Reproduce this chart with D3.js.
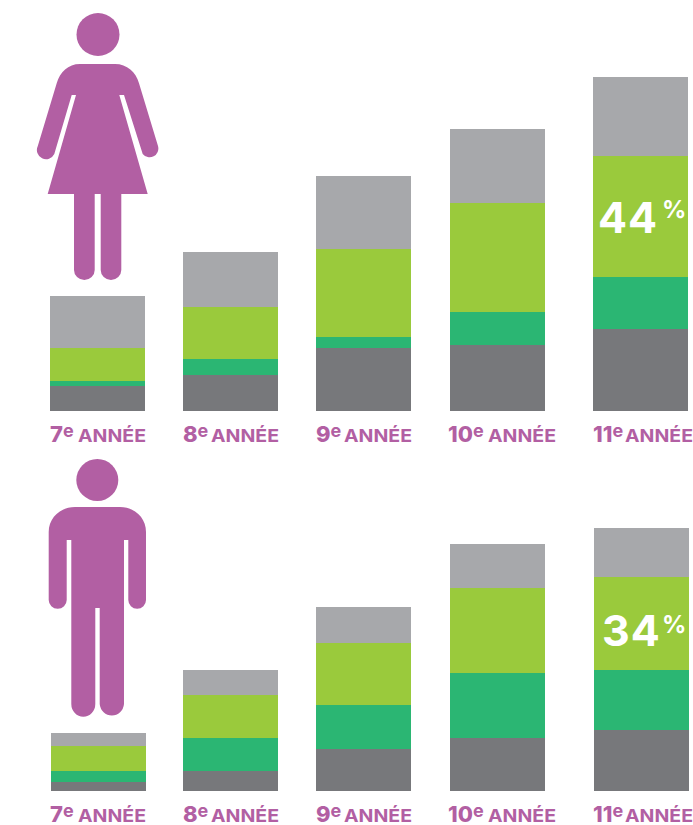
<!DOCTYPE html>
<html>
<head>
<meta charset="utf-8">
<script src="https://cdn.jsdelivr.net/npm/d3@7"></script>
<style>
  body { margin: 0; background: #fff; }
  text { font-family: Inter, sans-serif; font-weight: 700; }
</style>
</head>
<body>
<svg class="chart" width="693" height="825"></svg>
<script>
const grades = ["7", "8", "9", "10", "11"];
const layers = ["dark", "green", "lime", "grey"];
const layerColors = ["#77787b", "#2bb673", "#9aca3c", "#a7a8ab"];

// percent of students
const girlsDark = [9.1, 13.1, 22.9, 24, 29.8];
const girlsGreen = [1.9, 5.8, 4, 12, 18.9];
const girlsLime = [12, 18.9, 32.1, 39.7, 44];
const girlsGrey = [18.8, 20, 26.4, 26.8, 28.7];

const boysDark = [3.3, 7.3, 15.3, 19.3, 22.2];
const boysGreen = [4, 12, 16, 23.6, 21.8];
const boysLime = [9, 15.6, 22.5, 31, 34];
const boysGrey = [4.8, 9.1, 13.1, 15.9, 17.7];

const purple = "#b25fa3";

const svg = d3.select("svg.chart");

const topBarX = d3.scaleOrdinal().domain(grades).range([50, 183, 316, 450, 593]);
const bottomBarX = d3.scaleOrdinal().domain(grades).range([51, 183, 316, 450, 594]);
const labelX = d3.scaleOrdinal().domain(grades).range([50, 183, 316, 448, 593]);
const anneeX = d3.scaleOrdinal().domain(grades).range([78, 211, 344, 488, 625]);
const color = d3.scaleOrdinal().domain(layers).range(layerColors);
const stack = d3.stack().keys(layers);

function toRows(dark, green, lime, grey) {
  return grades.map((g, i) => {
    return { grade: g, dark: dark[i], green: green[i], lime: lime[i], grey: grey[i] };
  });
}

function drawPanel(rows, baseline, barX) {
  const y = d3.scaleLinear().domain([0, 100]).range([baseline, baseline - 275]);
  const panel = svg.append("g");

  panel
    .selectAll("g")
    .data(stack(rows))
    .enter()
    .append("g")
    .attr("fill", (d) => color(d.key))
    .selectAll("rect")
    .data((d) => d)
    .enter()
    .append("rect")
    .attr("x", (d) => barX(d.data.grade))
    .attr("y", (d) => y(d[1]))
    .attr("width", 95)
    .attr("height", (d) => y(d[0]) - y(d[1]))
    .attr("shape-rendering", "crispEdges");

  const labels = panel
    .selectAll("text.grade")
    .data(grades)
    .enter()
    .append("text")
    .attr("class", "grade")
    .attr("x", (d) => labelX(d))
    .attr("y", baseline + 31)
    .attr("fill", purple);
  labels.append("tspan").attr("font-size", 22).attr("font-weight", 800).text((d) => d);
  labels.append("tspan").attr("font-size", 18).attr("dy", -5).text("e");

  panel
    .selectAll("text.annee")
    .data(grades)
    .enter()
    .append("text")
    .attr("class", "annee")
    .attr("x", (d) => anneeX(d))
    .attr("y", baseline + 31)
    .attr("fill", purple)
    .attr("font-size", 18)
    .attr("font-weight", 800)
    .attr("textLength", 68)
    .attr("lengthAdjust", "spacingAndGlyphs")
    .text("ANNÉE");
}

function drawPercent(label, x, y, percentY) {
  svg.append("text").attr("x", x).attr("y", y)
    .attr("fill", "#fff").attr("font-size", 43).attr("font-weight", 800)
    .attr("letter-spacing", 1).text(label);
  svg.append("text").attr("x", 662).attr("y", percentY)
    .attr("fill", "#fff").attr("font-size", 24).attr("font-weight", 600).text("%");
}

drawPanel(toRows(girlsDark, girlsGreen, girlsLime, girlsGrey), 411, topBarX);
drawPanel(toRows(boysDark, boysGreen, boysLime, boysGrey), 791, bottomBarX);

drawPercent("44", 598, 233, 218);
drawPercent("34", 602, 646, 633);

// pictograms
svg.append("circle").attr("cx", 98).attr("cy", 34.5).attr("r", 21.5).attr("fill", purple);
svg.append("path").attr("fill", purple).attr("d",
  "M80,64H115C127,64 136,72 139,83.3L158,146A8.8,8.8 0 0 1 142.7,154L124,95H119.3L147.7,194H121.3V270A10.3,10 0 0 1 100.7,270V194H94.7V270A10.3,10 0 0 1 74,270V194H47.7L76,95H71.7L54.3,154A8.8,8.8 0 0 1 37.8,146L56.7,83.3C60,72 68,64 80,64Z");

svg.append("circle").attr("cx", 97.3).attr("cy", 480).attr("r", 21).attr("fill", purple);
svg.append("path").attr("fill", purple).attr("d",
  "M75,507H120C135,507 146,518 146,532V600A8.8,8.8 0 0 1 128.3,600V540H124V704A12.2,12.7 0 0 1 99.7,704V608H95.3V704A12,12.7 0 0 1 71.3,704V540H66.7V600A9,8.8 0 0 1 48.7,600V532C48.7,518 60,507 75,507Z");
</script>
</body>
</html>
